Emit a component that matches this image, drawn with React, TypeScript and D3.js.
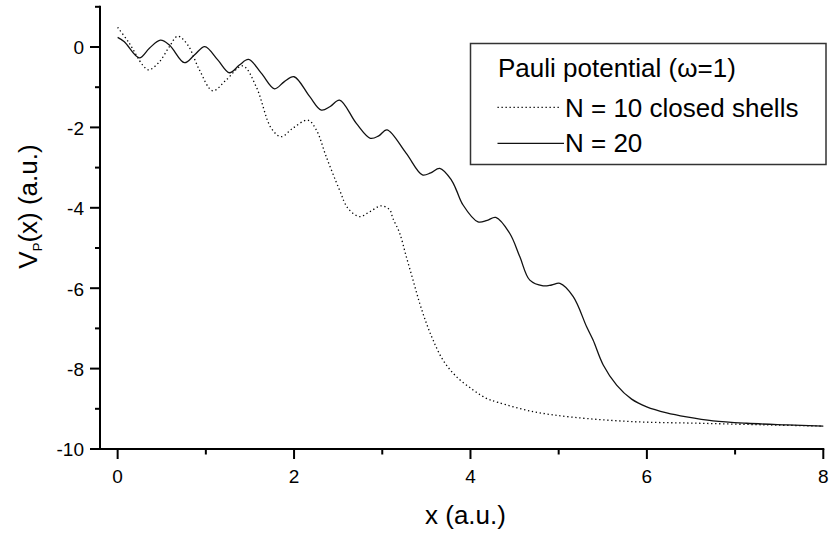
import React from "react";
import * as d3 from "d3";

const n20X = [0, 0.076, 0.246, 0.36, 0.485, 0.587, 0.757, 0.87, 0.988, 1.135, 1.268, 1.38, 1.484, 1.628, 1.779, 1.89, 2.0, 2.176, 2.309, 2.41, 2.516, 2.706, 2.865, 2.96, 3.053, 3.27, 3.455, 3.55, 3.652, 3.784, 3.84, 3.916, 4.086, 4.19, 4.287, 4.446, 4.56, 4.673, 4.824, 4.92, 5.014, 5.165, 5.317, 5.39, 5.505, 5.657, 5.827, 5.998, 6.225, 6.45, 6.75, 7.13, 7.59, 8.0];
const n20Y = [0.24, 0.13, -0.27, -0.03, 0.17, 0.05, -0.39, -0.2, 0.01, -0.32, -0.64, -0.45, -0.31, -0.65, -1.04, -0.86, -0.74, -1.23, -1.57, -1.48, -1.32, -1.9, -2.27, -2.21, -2.06, -2.64, -3.18, -3.13, -3.02, -3.31, -3.56, -3.93, -4.35, -4.31, -4.24, -4.64, -5.22, -5.8, -5.94, -5.92, -5.88, -6.21, -6.96, -7.29, -7.91, -8.41, -8.76, -8.95, -9.1, -9.2, -9.3, -9.36, -9.4, -9.43];

const n10X = [0, 0.133, 0.284, 0.352, 0.473, 0.587, 0.681, 0.795, 0.927, 1.078, 1.23, 1.419, 1.571, 1.741, 1.854, 1.986, 2.157, 2.252, 2.365, 2.516, 2.611, 2.743, 2.857, 2.99, 3.084, 3.12, 3.197, 3.273, 3.349, 3.425, 3.5, 3.576, 3.689, 3.841, 4.03, 4.18, 4.313, 4.71, 5.165, 5.846, 6.6, 7.36, 8.0];
const n10Y = [0.49, 0.09, -0.45, -0.57, -0.37, 0.01, 0.27, 0.05, -0.57, -1.09, -0.82, -0.47, -0.99, -2.02, -2.23, -2.02, -1.82, -2.06, -2.73, -3.56, -4.01, -4.22, -4.1, -3.95, -4.05, -4.26, -4.63, -5.22, -5.8, -6.38, -6.87, -7.29, -7.79, -8.2, -8.53, -8.74, -8.84, -9.07, -9.21, -9.32, -9.36, -9.4, -9.43];

const xMajorTicks = [0, 2, 4, 6, 8];
const xMinorTicks = [1, 3, 5, 7];
const yMajorTicks = [0, -2, -4, -6, -8, -10];
const yMinorTicks = [1, -1, -3, -5, -7, -9];

const legendTitle = "Pauli potential (\u03c9=1)";
const seriesNames = ["N = 10 closed shells", "N = 20"];
const xLabel = "x (a.u.)";

const FONT = "'Liberation Sans', Arial, Helvetica, sans-serif";

export default function App() {
  const x = d3.scaleLinear().domain([-0.2, 8]).range([100, 823.3]);
  const y = d3.scaleLinear().domain([-10, 1]).range([449, 6.8]);

  const line = d3
    .line<[number, number]>()
    .x((d) => x(d[0]))
    .y((d) => y(d[1]))
    .curve(d3.curveCatmullRom.alpha(0.5));

  const n10: [number, number][] = n10X.map((v, i) => [v, n10Y[i]]);
  const n20: [number, number][] = n20X.map((v, i) => [v, n20Y[i]]);

  const x0 = x.range()[0];
  const yBase = y(-10);

  return (
    <svg
      width={829}
      height={534}
      style={{ position: "absolute", left: 0, top: 0, background: "#fff" }}
      fontFamily={FONT}
    >
      <rect x={0} y={0} width={829} height={534} fill="#fff" />
      {/* curves */}
      <path d={line(n10) || ""} fill="none" stroke="#000" strokeWidth={1.3} strokeDasharray="1.3 2.7" />
      <path d={line(n20) || ""} fill="none" stroke="#111" strokeWidth={1.3} />

      {/* axes */}
      <line x1={x0} x2={x0} y1={y(1) - 1} y2={yBase + 1} stroke="#000" strokeWidth={2} />
      <line x1={x0 - 1} x2={x(8) + 1} y1={yBase} y2={yBase} stroke="#000" strokeWidth={2} />
      {yMajorTicks.map((t) => (
        <g key={"ym" + t}>
          <line x1={x0 - 10} x2={x0} y1={y(t)} y2={y(t)} stroke="#000" strokeWidth={2} />
          <text x={84} y={y(t) + 7.3} textAnchor="end" fontSize={19} fill="#000">
            {t}
          </text>
        </g>
      ))}
      {yMinorTicks.map((t) => (
        <line key={"yn" + t} x1={x0 - 5} x2={x0} y1={y(t)} y2={y(t)} stroke="#000" strokeWidth={2} />
      ))}
      {xMajorTicks.map((t) => (
        <g key={"xm" + t}>
          <line x1={x(t)} x2={x(t)} y1={yBase} y2={yBase + 10} stroke="#000" strokeWidth={2} />
          <text x={x(t)} y={483} textAnchor="middle" fontSize={19} fill="#000">
            {t}
          </text>
        </g>
      ))}
      {xMinorTicks.map((t) => (
        <line key={"xn" + t} x1={x(t)} x2={x(t)} y1={yBase} y2={yBase + 5.5} stroke="#000" strokeWidth={2} />
      ))}

      {/* axis labels */}
      <text x={465.5} y={523.5} textAnchor="middle" fontSize={26} fill="#000">
        {xLabel}
      </text>
      <text transform="translate(37,206.5) rotate(-90)" textAnchor="middle" fontSize={26} fill="#000">
        V<tspan fontSize={13} dy={5}>P</tspan>
        <tspan dy={-5}>(x) (a.u.)</tspan>
      </text>

      {/* legend */}
      <rect x={470.5} y={43.5} width={355.5} height={121} fill="#fff" stroke="#333" strokeWidth={1.5} />
      <text x={498} y={77} fontSize={26} fill="#000">
        {legendTitle}
      </text>
      <line x1={497.5} x2={560} y1={107.3} y2={107.3} stroke="#000" strokeWidth={1.3} strokeDasharray="1.3 2.7" />
      <text x={565} y={117} fontSize={26} fill="#000">
        {seriesNames[0]}
      </text>
      <line x1={497.5} x2={564} y1={143.3} y2={143.3} stroke="#111" strokeWidth={1.3} />
      <text x={565} y={152} fontSize={26} fill="#000">
        {seriesNames[1]}
      </text>
    </svg>
  );
}
